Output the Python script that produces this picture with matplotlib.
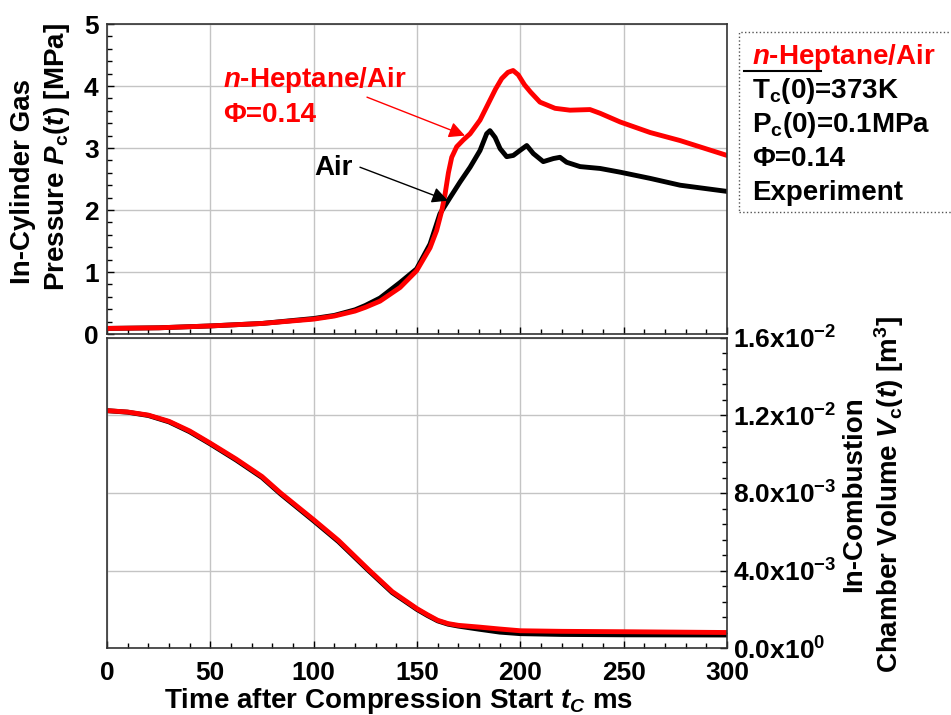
import numpy as np
import matplotlib
matplotlib.use('Agg')
import matplotlib.pyplot as plt
from matplotlib.patches import Rectangle
from matplotlib.lines import Line2D
from matplotlib.ticker import MultipleLocator, FixedLocator

plt.rcParams['font.family'] = ['Liberation Sans', 'DejaVu Sans']
plt.rcParams['font.weight'] = 'bold'
plt.rcParams['mathtext.fontset'] = 'custom'
plt.rcParams['mathtext.rm'] = 'Liberation Sans:bold'
plt.rcParams['mathtext.it'] = 'Liberation Sans:italic:bold'
plt.rcParams['mathtext.bf'] = 'Liberation Sans:bold'

# pressure, n-heptane/air (MPa)
t_p_hep = [0, 25, 50, 75, 100, 110, 120, 125, 132.1, 141.8, 149.8, 156.3, 159.5, 162.0,
           163.6, 165.2, 166.8, 169.2, 172.4, 175.7, 180.5, 185.3, 188, 191, 194, 196.5,
           199, 202, 205, 209.5, 216.8, 224, 233.7, 238.6, 248.3, 262.8, 277.3, 300]
p_hep = [0.09, 0.10, 0.13, 0.17, 0.24, 0.29, 0.37, 0.43, 0.53, 0.75, 1.02, 1.39, 1.67, 1.99,
         2.26, 2.60, 2.85, 3.02, 3.13, 3.23, 3.45, 3.77, 3.95, 4.12, 4.22, 4.25,
         4.18, 4.02, 3.90, 3.74, 3.64, 3.61, 3.62, 3.56, 3.42, 3.25, 3.12, 2.88]

# pressure, air (MPa)
t_p_air = [0, 25, 50, 75, 100, 110, 120, 125, 132.1, 141.8, 149.8, 156.3, 161.1, 166.0,
           170.8, 175.7, 180.5, 183.7, 185.3, 187.8, 190.2, 193.4, 196.6, 199.8, 203.1,
           206.3, 211.1, 216.0, 219.2, 222.4, 228.9, 238.6, 248.3, 262.8, 277.3, 300]
p_air = [0.09, 0.10, 0.13, 0.17, 0.25, 0.30, 0.39, 0.46, 0.58, 0.83, 1.05, 1.45, 1.94, 2.20,
         2.45, 2.69, 2.96, 3.23, 3.28, 3.17, 2.99, 2.86, 2.88, 2.96, 3.04,
         2.91, 2.78, 2.83, 2.85, 2.77, 2.70, 2.67, 2.61, 2.51, 2.40, 2.30]

# chamber volume (m^3)
t_v = [0, 10, 20, 30, 40, 50, 62.5, 75, 84, 100, 112, 126.7, 138, 150, 155, 160, 165,
       170, 180, 190, 200, 220, 250, 300]
v_hep = [0.01225, 0.01218, 0.01202, 0.01170, 0.01120, 0.01057, 0.00975, 0.00885, 0.00800,
         0.00662, 0.00555, 0.00403, 0.00291, 0.00203, 0.00172, 0.00143, 0.00126,
         0.00117, 0.00108, 0.00098, 0.00089, 0.00086, 0.00084, 0.00080]
v_air = [0.01225, 0.01217, 0.01200, 0.01167, 0.01116, 0.01053, 0.00970, 0.00880, 0.00795,
         0.00656, 0.00549, 0.00398, 0.00286, 0.00199, 0.00168, 0.00140, 0.00123,
         0.00113, 0.00097, 0.00082, 0.00074, 0.00070, 0.00068, 0.00067]

v_ticks = [0, 0.004, 0.008, 0.012, 0.016]
v_tick_labels = [r'0.0x10$^{0}$', r'4.0x10$^{-3}$', r'8.0x10$^{-3}$',
                 r'1.2x10$^{-2}$', r'1.6x10$^{-2}$']

W, H = 951, 715
fig = plt.figure(figsize=(W / 100, H / 100), dpi=100)


def fx(px):
    return px / W


def fy(py):
    return 1 - py / H


ax1 = fig.add_axes([fx(107), fy(334), fx(727) - fx(107), fy(24) - fy(334)])
ax2 = fig.add_axes([fx(107), fy(648), fx(727) - fx(107), fy(338) - fy(648)])

BIG = 20
TICK = 19

grid_kw = dict(color='#c4c4c4', lw=1.0)
for ax in (ax1, ax2):
    ax.set_xlim(0, 300)
    ax.xaxis.set_major_locator(MultipleLocator(50))
    ax.xaxis.set_minor_locator(MultipleLocator(10))
    ax.grid(True, which='major', **grid_kw)
    ax.set_axisbelow(True)
    for s in ax.spines.values():
        s.set_linewidth(1.2)
        s.set_color('#333333')
    ax.tick_params(which='both', direction='in', top=False, width=1)
    ax.tick_params(which='major', length=5)
    ax.tick_params(which='minor', length=3.5)

# top panel: pressure
ax1.plot(t_p_air, p_air, color='black', lw=3.5, solid_capstyle='round')
ax1.plot(t_p_hep, p_hep, color='#ff0000', lw=3.5, solid_capstyle='round')
ax1.set_ylim(0, 5)
ax1.yaxis.set_major_locator(MultipleLocator(1))
ax1.yaxis.set_minor_locator(MultipleLocator(0.2))
ax1.tick_params(axis='y', which='both', right=False, left=True)
ax1.tick_params(axis='y', labelsize=TICK, pad=6)
ax1.tick_params(axis='x', labelbottom=False)

ax1.text(56, 4.10, r'$n$-Heptane/Air', color='#ff0000', fontsize=BIG,
         fontweight='bold', ha='left', va='center')
ax1.text(56, 3.54, 'Φ=0.14', color='#ff0000', fontsize=BIG,
         fontweight='bold', ha='left', va='center')
ax1.annotate('', xy=(173.2, 3.20), xytext=(125.8, 3.82),
             arrowprops=dict(arrowstyle='-|>', color='#ff0000', lw=1,
                             mutation_scale=24, shrinkA=0, shrinkB=0))
ax1.text(100.5, 2.67, 'Air', color='black', fontsize=BIG, fontweight='bold',
         ha='left', va='center')
ax1.annotate('', xy=(165, 2.15), xytext=(122.4, 2.69),
             arrowprops=dict(arrowstyle='-|>', color='black', lw=1,
                             mutation_scale=24, shrinkA=0, shrinkB=0))

# bottom panel: volume
ax2.plot(t_v, v_air, color='black', lw=3.5, solid_capstyle='round')
ax2.plot(t_v, v_hep, color='#ff0000', lw=3.5, solid_capstyle='round')
ax2.set_ylim(0, 0.016)
ax2.yaxis.set_major_locator(FixedLocator(v_ticks))
ax2.yaxis.set_minor_locator(MultipleLocator(0.0008))
ax2.set_yticklabels(v_tick_labels)
ax2.tick_params(axis='y', which='both', left=False, right=True,
                labelleft=False, labelright=True)
ax2.tick_params(axis='y', labelsize=TICK, pad=4)
ax2.tick_params(axis='x', labelsize=TICK, pad=9)

fig.text(fx(398), fy(701), r'Time after Compression Start $t_C$ ms',
         fontsize=BIG, fontweight='bold', ha='center', va='center')

fig.text(fx(23), fy(181), 'In-Cylinder Gas', rotation=90, fontsize=BIG,
         fontweight='bold', ha='center', va='center')
fig.text(fx(57), fy(157), r'Pressure $P_{\mathrm{c}}(t)$ [MPa]', rotation=90,
         fontsize=BIG, fontweight='bold', ha='center', va='center')

fig.text(fx(854), fy(494), 'In-Combustion', rotation=90, fontsize=BIG,
         fontweight='bold', ha='center', va='center')
fig.text(fx(889), fy(495), r'Chamber Volume $V_{\mathrm{c}}(t)$ [m$^{3}$]',
         rotation=90, fontsize=BIG, fontweight='bold', ha='center', va='center')

# condition box
fig.patches.append(Rectangle((fx(739), fy(212)), fx(220), fy(32) - fy(212),
                             transform=fig.transFigure, fill=False,
                             ls=':', lw=1, edgecolor='#555555'))
fig.lines.append(Line2D([fx(744), fx(821)], [fy(71), fy(71)],
                        transform=fig.transFigure, color='black', lw=1.5))
box_lines = [(r'$n$-Heptane/Air', '#ff0000', 57),
             (r'T$_{\mathrm{c}}$(0)=373K', 'black', 91),
             (r'P$_{\mathrm{c}}$(0)=0.1MPa', 'black', 125),
             ('Φ=0.14', 'black', 159),
             ('Experiment', 'black', 193)]
for txt, col, py in box_lines:
    fig.text(fx(752), fy(py), txt, color=col, fontsize=BIG, fontweight='bold',
             ha='left', va='center')

fig.savefig('out.png', dpi=100)
